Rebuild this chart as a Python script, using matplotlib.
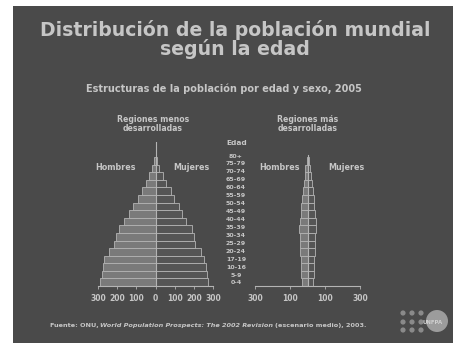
import numpy as np
import matplotlib.pyplot as plt
from matplotlib.patches import Rectangle, Circle

W, H = 453, 343
DPI = 100

# grupos de edad, de abajo hacia arriba
edades = ["0-4", "5-9", "10-16", "17-19", "20-24", "25-29", "30-34", "35-39",
          "40-44", "45-49", "50-54", "55-59", "60-64", "65-69", "70-74", "75-79", "80+"]

# millones de personas, 2005
menos_hombres = [289, 277, 274, 268, 242, 217, 205, 189, 163, 137, 115, 91, 70, 52, 36, 20, 6]
menos_mujeres = [275, 267, 261, 254, 235, 207, 202, 191, 161, 139, 120, 98, 80, 56, 38, 20, 9]
mas_hombres = [34, 36, 39, 40, 42, 42, 42, 46, 44, 40, 36, 31, 27, 22, 17, 12, 5]
mas_mujeres = [33, 35, 37, 39, 42, 42, 43, 48, 46, 42, 39, 35, 31, 28, 22, 16, 9]

ticks_menos = [-300, -200, -100, 0, 100, 200, 300]
ticks_mas = [-300, -100, 100, 300]

BG = "#4a4a4a"
C_HOMBRES = "#7a7a7a"
C_MUJERES = "#555555"
C_LINEA = "#b4b4b4"
C_TEXTO = "#c6c6c6"

plt.rcParams['font.family'] = ['DejaVu Sans']
plt.rcParams['font.weight'] = 'bold'

fig = plt.figure(figsize=(W / DPI, H / DPI), dpi=DPI)
fig.patch.set_facecolor("white")
fig.patches.append(Rectangle((13 / DPI, 0), (W - 13) / DPI, (H - 6) / DPI,
                             transform=fig.dpi_scale_trans, facecolor=BG,
                             edgecolor="none", zorder=-10))


def fx(px):
    return px / W


def fy(py):
    return 1 - py / H


def txt(x, y, s, size, **kw):
    kw.setdefault("color", C_TEXTO)
    kw.setdefault("ha", "center")
    kw.setdefault("va", "center")
    kw.setdefault("fontweight", "bold")
    return fig.text(fx(x), fy(y), s, fontsize=size, **kw)


def pyramid(rect, hombres, mujeres, ticks, top_line):
    ax = fig.add_axes(rect)
    ax.set_facecolor("none")
    y = np.arange(len(edades))
    ax.barh(y, -np.array(hombres), height=1, color=C_HOMBRES,
            edgecolor=C_LINEA, linewidth=0.6)
    ax.barh(y, mujeres, height=1, color=C_MUJERES,
            edgecolor=C_LINEA, linewidth=0.6)
    ax.axvline(0, ymin=0, ymax=top_line, color=C_LINEA, linewidth=0.8)
    ax.set_xlim(-300, 300)
    ax.set_ylim(-0.5, 18.5)
    for s in ["top", "left", "right"]:
        ax.spines[s].set_visible(False)
    ax.spines["bottom"].set_color(C_LINEA)
    ax.spines["bottom"].set_linewidth(0.8)
    ax.set_yticks([])
    ax.set_xticks(ticks)
    ax.set_xticklabels([str(abs(t)) for t in ticks])
    ax.tick_params(axis="x", colors=C_LINEA, labelcolor=C_TEXTO, length=2.5,
                   width=0.6, labelsize=5.5, pad=3)
    for lab in ax.get_xticklabels():
        lab.set_fontweight("bold")
    return ax


# ejes: y de 142 px (arriba) a 286 px (abajo)
bottom = fy(286)
height = (286 - 142) / H
pyramid([fx(98), bottom, 115 / W, height], menos_hombres, menos_mujeres, ticks_menos, 1.0)
pyramid([fx(255), bottom, 105 / W, height], mas_hombres, mas_mujeres, ticks_mas, 0.91)

# títulos
txt(235, 36, "Distribución de la población mundial", 13.6, va="baseline")
txt(235, 55, "según la edad", 13.6, va="baseline")
txt(224, 89, "Estructuras de la población por edad y sexo, 2005", 7.05)

txt(153, 124, "Regiones menos\ndesarrolladas", 5.6, linespacing=1.1)
txt(308, 124, "Regiones más\ndesarrolladas", 5.6, linespacing=1.1)

txt(116, 168, "Hombres", 5.8)
txt(191, 168, "Mujeres", 5.8)
txt(279, 168, "Hombres", 5.8)
txt(346, 168, "Mujeres", 5.8)

txt(237, 143, "Edad", 5.3)
for py, e in zip(np.linspace(283, 156, len(edades)), edades):
    txt(236, py, e, 4.5)

# fuente, con parte en cursiva
partes = [("Fuente: ONU,", "normal"),
          ("World Population Prospects: The 2002 Revision", "italic"),
          ("(escenario medio), 2003.", "normal")]
espacio = 1.6
fig.canvas.draw()
renderer = fig.canvas.get_renderer()
objs = []
for s, st in partes:
    t = fig.text(0, fy(327), s, fontsize=4.65, fontweight="bold", style=st,
                 color=C_TEXTO, ha="left", va="baseline")
    objs.append(t)
anchos = [t.get_window_extent(renderer).width for t in objs]
x = 208 - (sum(anchos) + espacio * (len(anchos) - 1)) / 2
for t, w in zip(objs, anchos):
    t.set_x(fx(x))
    x += w + espacio

# logo
for cx in [403, 412, 421]:
    for cy in [313, 322, 330]:
        fig.patches.append(Circle((cx / DPI, (H - cy) / DPI), 2.6 / DPI,
                                  transform=fig.dpi_scale_trans,
                                  facecolor="#8a8a8a", edgecolor="none"))
fig.patches.append(Circle((437 / DPI, (H - 321) / DPI), 11 / DPI,
                          transform=fig.dpi_scale_trans,
                          facecolor="#9c9c9c", edgecolor="none"))
txt(433, 322, "UNFPA", 3.9, color="#cfcfcf")

fig.savefig("out.png", dpi=DPI)
